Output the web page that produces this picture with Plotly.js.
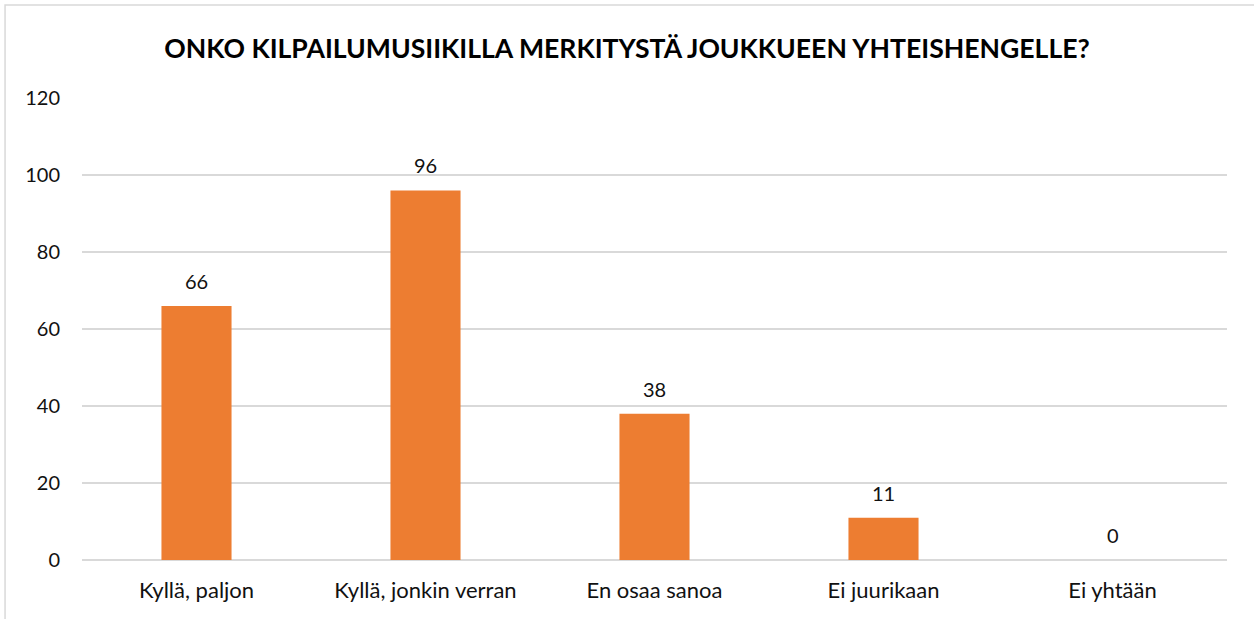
<!DOCTYPE html>
<html>
<head>
<meta charset="utf-8">
<script src="https://cdn.plot.ly/plotly-3.0.1.min.js"></script>
<style>html,body{margin:0;padding:0;background:#fff;}#chart{width:1254px;height:619px;}</style>
</head>
<body>
<div id="chart"></div>
<script>
const categories = ["Kyllä, paljon", "Kyllä, jonkin verran", "En osaa sanoa", "Ei juurikaan", "Ei yhtään"];
const values = [66, 96, 38, 11, 0];
const yTicks = [0, 20, 40, 60, 80, 100, 120];
const chartTitle = "ONKO KILPAILUMUSIIKILLA MERKITYSTÄ JOUKKUEEN YHTEISHENGELLE?";

const fontFam = "Lato, 'Noto Sans', sans-serif";

const trace = {
  type: "bar",
  x: categories,
  y: values,
  marker: {color: "#ED7D31"},
  hoverinfo: "none"
};

const labelAnnotations = categories.map((c, i) => ({
  x: c, y: values[i], xref: "x", yref: "y",
  text: String(values[i]),
  showarrow: false,
  xanchor: "center", yanchor: "bottom",
  yshift: 11,
  font: {family: fontFam, size: 20, color: "#111"}
}));

const layout = {
  width: 1254,
  height: 619,
  margin: {l: 82, r: 27, t: 98, b: 59},
  paper_bgcolor: "#fff",
  plot_bgcolor: "#fff",
  bargap: 0.694,
  showlegend: false,
  font: {family: fontFam, size: 20, color: "#111"},
  title: {
    text: "<b>" + chartTitle + "</b>",
    font: {family: fontFam, size: 26.6, color: "#000"},
    x: 0.5, xanchor: "center",
    y: 0.922, yanchor: "middle"
  },
  xaxis: {
    showgrid: false,
    showline: false,
    zeroline: false,
    ticks: "",
    ticklabelstandoff: 15,
    tickfont: {family: fontFam, size: 22, color: "#111"}
  },
  yaxis: {
    range: [0, 120],
    tickvals: yTicks,
    ticktext: yTicks.map(String),
    showgrid: true,
    gridcolor: "#d9d9d9",
    gridwidth: 1.3,
    zeroline: true,
    zerolinecolor: "#d9d9d9",
    zerolinewidth: 1.3,
    showline: false,
    ticks: "",
    ticklabelstandoff: 21,
    tickfont: {family: fontFam, size: 20, color: "#111"}
  },
  annotations: labelAnnotations,
  shapes: [{
    type: "rect", xref: "paper", yref: "paper",
    x0: -0.0672, x1: 1.1, y0: -0.3, y1: 1.2013,
    line: {color: "#d9d9d9", width: 1.5},
    fillcolor: "rgba(0,0,0,0)",
    layer: "below"
  }]
};

Plotly.newPlot("chart", [trace], layout, {displayModeBar: false, staticPlot: true});
</script>
</body>
</html>
